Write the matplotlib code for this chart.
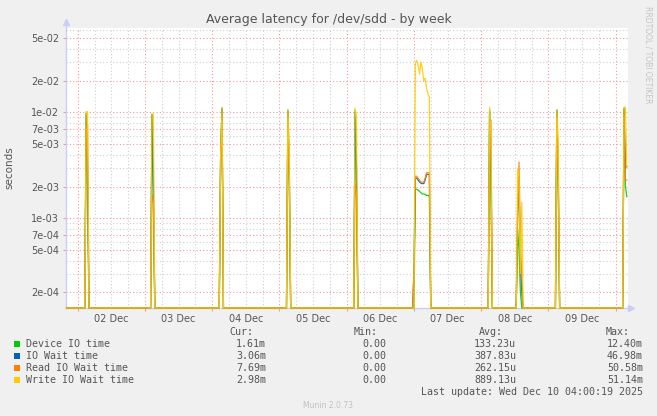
import numpy as np
import matplotlib
matplotlib.use("Agg")
import matplotlib.pyplot as plt
from matplotlib.patches import Rectangle
from matplotlib.ticker import FixedLocator, FuncFormatter, NullFormatter


# samples in hours since 01 Dec 00:00 (30 min steps), only non-zero ones
sample_hours = [27.0, 27.5, 50.5, 51.0, 75.0, 75.5, 99.0, 99.5, 123.0, 123.5,
                144.0, 144.5, 145.0, 145.5, 146.0, 146.5, 147.0, 147.5, 148.0,
                148.5, 149.0, 149.5, 171.0, 171.5, 181.0, 181.5, 182.0, 182.5,
                195.0, 195.5, 219.0, 219.5, 220.0]

device_io = [0.0095, 0.0020, 0.0095, 0.0015, 0.0040, 0.0108, 0.0102, 0.0022, 0.0105, 0.0019,
             0.0, 0.0019, 0.00188, 0.00185, 0.0018, 0.00175, 0.0017, 0.0017, 0.00168,
             0.00165, 0.00165, 0.00163, 0.0100, 0.0020, 0.0008, 0.0005, 0.0002, 0.0001,
             0.0105, 0.0020, 0.0108, 0.0020, 0.0016]

io_wait = [0.0098, 0.0030, 0.0096, 0.0020, 0.0040, 0.0110, 0.0105, 0.0030, 0.0100, 0.0030,
           0.0003, 0.0024, 0.0024, 0.0023, 0.0022, 0.00215, 0.00213, 0.00213, 0.0023,
           0.0026, 0.0026, 0.0026, 0.0105, 0.0030, 0.0010, 0.0025, 0.0004, 0.0002,
           0.0105, 0.0030, 0.0110, 0.0030, 0.0031]

read_io_wait = [0.0065, 0.0078, 0.0017, 0.0014, 0.0040, 0.0090, 0.0090, 0.0024, 0.0021, 0.0016,
                0.00034, 0.0025, 0.0025, 0.0024, 0.0023, 0.0022, 0.0022, 0.0022, 0.0024,
                0.0027, 0.0027, 0.0027, 0.0040, 0.0085, 0.0010, 0.0034, 0.0006, 0.0003,
                0.0090, 0.0024, 0.0095, 0.0023, 0.0023]

write_io_wait = [0.0102, 0.0102, 0.0098, 0.0096, 0.0040, 0.0112, 0.0107, 0.0045, 0.0110, 0.0090,
                 0.0, 0.029, 0.031, 0.028, 0.023, 0.030, 0.026, 0.020, 0.021,
                 0.017, 0.015, 0.014, 0.0112, 0.0060, 0.0029, 0.0025, 0.0003, 0.00143,
                 0.0107, 0.0055, 0.0112, 0.0112, 0.0030]

series_names = ["Device IO time", "IO Wait time", "Read IO Wait time", "Write IO Wait time"]
series_colors = ["#00cc00", "#0066b3", "#ff8000", "#ffcc00"]
cur_vals = ["1.61m", "3.06m", "7.69m", "2.98m"]
min_vals = ["0.00", "0.00", "0.00", "0.00"]
avg_vals = ["133.23u", "387.83u", "262.15u", "889.13u"]
max_vals = ["12.40m", "46.98m", "50.58m", "51.14m"]

day_labels = ["02 Dec", "03 Dec", "04 Dec", "05 Dec", "06 Dec", "07 Dec", "08 Dec", "09 Dec"]
y_major = [2e-4, 5e-4, 7e-4, 1e-3, 2e-3, 5e-3, 7e-3, 1e-2, 2e-2, 5e-2]
y_minor = [3e-4, 4e-4, 6e-4, 8e-4, 9e-4, 3e-3, 4e-3, 6e-3, 8e-3, 9e-3,
           3e-2, 4e-2, 6e-2]

W, H = 657, 416
x_start, x_end = 19.8, 220.3
y_low, y_high = 1.425e-4, 0.0628

# full 30 min grid, zero where nothing happened
t = np.arange(20.0, 220.01, 0.5)
idx = np.round((np.array(sample_hours) - 20.0) / 0.5).astype(int)
all_series = []
for vals in [device_io, io_wait, read_io_wait, write_io_wait]:
    s = np.zeros_like(t)
    s[idx] = vals
    all_series.append(np.clip(s, y_low, None))


def fx(px):
    return px / W


def fy(py):
    return 1 - py / H


fig = plt.figure(figsize=(W / 100, H / 100), dpi=100, facecolor="#f0f0f0")
ax = fig.add_axes([fx(66), fy(308), fx(627.7 - 66), 280 / H])
ax.set_facecolor("white")

for s, c in zip(all_series, series_colors):
    ax.plot(t, s, color=c, lw=0.9, clip_on=False, zorder=3, alpha=0.9)

ax.set_yscale("log")
ax.set_xlim(x_start, x_end)
ax.set_ylim(y_low, y_high)

red = "#f09a9a"
grey = "#cfcfcf"
dots = (0, (1, 2))

ax.yaxis.set_major_locator(FixedLocator(y_major))
ax.yaxis.set_minor_locator(FixedLocator(y_minor))
ax.yaxis.set_major_formatter(FuncFormatter(lambda v, p: "%.0e" % v))
ax.yaxis.set_minor_formatter(NullFormatter())

midnights = [24 * k for k in range(1, 10)]
six_hours = [h for h in range(6, 222, 6) if h % 24 != 0 and x_start < h < x_end]
ax.xaxis.set_major_locator(FixedLocator(midnights))
ax.xaxis.set_major_formatter(NullFormatter())
ax.xaxis.set_minor_locator(FixedLocator(six_hours))


def day_fmt(v, p):
    if int(round(v)) % 24 == 12:
        k = int(round(v)) // 24 - 1
        if 0 <= k < len(day_labels):
            return day_labels[k]
    return ""


ax.xaxis.set_minor_formatter(FuncFormatter(day_fmt))

ax.grid(which="major", color=red, ls=dots, lw=0.8)
ax.grid(which="minor", color=grey, ls=dots, lw=0.8)
ax.set_axisbelow(True)

ax.tick_params(axis="y", which="major", length=2, color=red, labelsize=7,
               labelcolor="#555555", pad=3)
ax.tick_params(axis="y", which="minor", length=0)
ax.tick_params(axis="x", which="major", length=2, color=red)
ax.tick_params(axis="x", which="minor", length=0, labelsize=7,
               labelcolor="#555555", pad=4.5)

for side in ["top", "right", "left", "bottom"]:
    ax.spines[side].set_visible(False)

axis_col = "#c8cef5"
ax.plot([0, 0], [0, 1.02], color=axis_col, lw=1, transform=ax.transAxes, clip_on=False, zorder=1)
ax.plot([0, 1.006], [0, 0], color=axis_col, lw=1, transform=ax.transAxes, clip_on=False, zorder=1)
ax.plot([0], [1.022], marker="^", ms=4, color=axis_col, transform=ax.transAxes, clip_on=False)
ax.plot([1.006], [0], marker=">", ms=4, color=axis_col, transform=ax.transAxes, clip_on=False)

ax.set_ylabel("seconds", fontsize=7.5, color="#555555")
ax.yaxis.set_label_coords(-0.091, 0.5)

fig.text(0.5, fy(19), "Average latency for /dev/sdd - by week", ha="center", va="center",
         fontsize=9, color="#555555")
fig.text(fx(648), fy(55), "RRDTOOL / TOBI OETIKER", rotation=270, ha="center", va="center",
         fontsize=5.5, color="#c4c4c4")

# legend block
mono = "DejaVu Sans Mono"
txt = "#555555"
fs = 7.2
for x, h in zip([253, 378, 503, 630], ["Cur:", "Min:", "Avg:", "Max:"]):
    fig.text(fx(x), fy(332), h, ha="right", va="center", family=mono, fontsize=fs, color=txt)

for i in range(4):
    yy = 344 + 12 * i
    fig.patches.append(Rectangle((fx(14), fy(yy + 3)), fx(6), 6 / H, transform=fig.transFigure,
                                 facecolor=series_colors[i], edgecolor="none"))
    fig.text(fx(26), fy(yy), series_names[i], ha="left", va="center", family=mono,
             fontsize=fs, color=txt)
    for x, v in zip([266, 386, 516, 643], [cur_vals[i], min_vals[i], avg_vals[i], max_vals[i]]):
        fig.text(fx(x), fy(yy), v, ha="right", va="center", family=mono, fontsize=fs, color=txt)

fig.text(fx(643), fy(392), "Last update: Wed Dec 10 04:00:19 2025", ha="right", va="center",
         family=mono, fontsize=fs, color=txt)
fig.text(fx(328), fy(405), "Munin 2.0.73", ha="center", va="center", fontsize=5.5, color="#c0c0c0")

fig.savefig("out.png", dpi=100, facecolor=fig.get_facecolor())
